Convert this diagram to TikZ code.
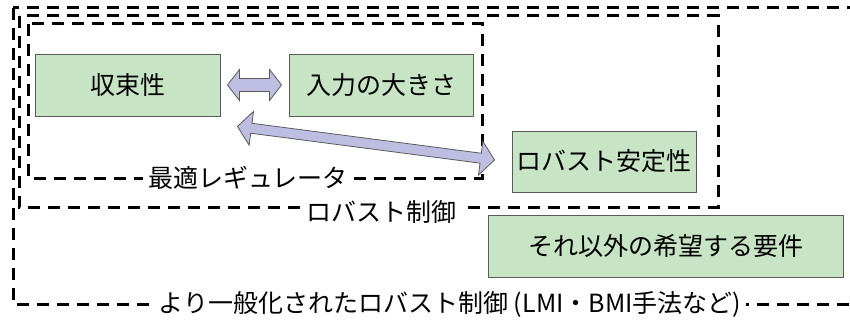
\documentclass[tikz,border=0pt]{standalone}
\usepackage{fontspec}
\setmainfont{Noto Sans CJK JP}
\usetikzlibrary{calc}
\definecolor{boxgreen}{RGB}{199,228,196}
\definecolor{arrfill}{RGB}{190,190,226}
\definecolor{boxline}{RGB}{90,90,90}
\tikzset{
  gbox/.style={draw=boxline, line width=0.9pt, fill=boxgreen, minimum height=62pt, inner sep=0pt,
    font=\fontsize{25}{30}\selectfont},
  dbox/.style={draw=black, line width=3pt, dash pattern=on 12pt off 8pt},
  glabel/.style={fill=white, inner sep=5pt, font=\fontsize{25}{30}\selectfont},
  blockarrow/.style={draw=boxline, line width=0.8pt, fill=arrfill, line join=miter},
}
\newcommand{\blockarr}[5]{%
  \draw[blockarrow] (#1)
    -- ($(#1)!#3!(#2)!#4!90:(#2)$)
    -- ($(#1)!#3!(#2)!#5!90:(#2)$)
    -- ($(#2)!#3!(#1)!#5!-90:(#1)$)
    -- ($(#2)!#3!(#1)!#4!-90:(#1)$)
    -- (#2)
    -- ($(#2)!#3!(#1)!#4!90:(#1)$)
    -- ($(#2)!#3!(#1)!#5!90:(#1)$)
    -- ($(#1)!#3!(#2)!#5!-90:(#2)$)
    -- ($(#1)!#3!(#2)!#4!-90:(#2)$)
    -- cycle;}
\begin{document}
\begin{tikzpicture}[x=1pt,y=-1pt]
\useasboundingbox (0,0) rectangle (850,323);
\clip (0,0) rectangle (850,323);
% dashed regions
\draw[dbox] (13,8) rectangle (880,304);
\draw[dbox] (19,16) rectangle (718,207);
\draw[dbox] (28,24) rectangle (482,178);
\node[glabel] (lopt) at (248,178) {最適レギュレータ};
\node[glabel] (lrob) at (381,212) {ロバスト制御};
\node[glabel] (lgen) at (450,304) {より一般化されたロバスト制御 (LMI・BMI手法など)};
% boxes
\node[gbox, minimum width=185pt] (conv) at (127.5,85) {収束性};
\node[gbox, minimum width=184pt] (inp) at (381,85) {入力の大きさ};
\node[gbox, minimum width=184pt, minimum height=61pt] (rob) at (604,161.5) {ロバスト安定性};
\node[gbox, minimum width=355pt] (other) at (665.5,246) {それ以外の希望する要件};
% arrows
\coordinate (a1l) at ($(conv.east)+(7,0)$);
\coordinate (a1r) at ($(inp.west)+(-7,0)$);
\blockarr{a1l}{a1r}{12pt}{15.5pt}{6.5pt}
\coordinate (a2l) at ($(conv.south east)+(17,10)$);
\coordinate (a2r) at ($(rob.west)+(-17,-1.5)$);
\blockarr{a2l}{a2r}{14pt}{17pt}{5pt}
\end{tikzpicture}
\end{document}
